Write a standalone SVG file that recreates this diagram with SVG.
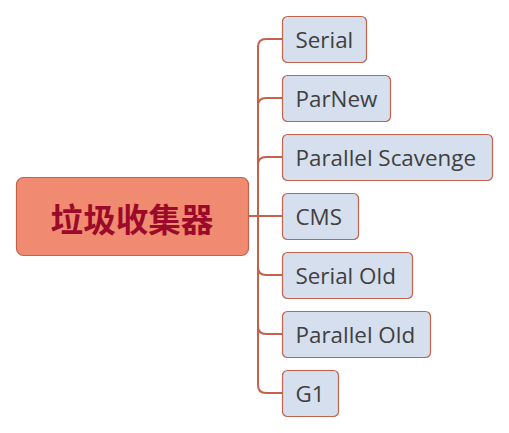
<svg xmlns="http://www.w3.org/2000/svg" width="509" height="433" viewBox="0 0 509 433">
<style>
.c{fill:none;stroke:#c4624c;stroke-width:2}
.n rect{fill:#d5dfee;stroke:#c4624c;stroke-width:1.2}
.n text{font-family:"Open Sans","Noto Sans",sans-serif;font-size:22.4px;fill:#404040}
</style>
<rect width="509" height="433" fill="#fff"/>
<g id="connectors">
<path class="c" d="M249 216H258V47Q258 39 266 39H282"/>
<path class="c" d="M258 216V106Q258 98 266 98H282"/>
<path class="c" d="M258 216V165Q258 157 266 157H282"/>
<path class="c" d="M258 216H282"/>
<path class="c" d="M258 216V267Q258 275 266 275H282"/>
<path class="c" d="M258 216V326Q258 334 266 334H282"/>
<path class="c" d="M258 216V385Q258 393 266 393H282"/>
</g>
<g id="root">
<rect x="16.5" y="177.5" width="232" height="78" rx="7" fill="#f08a70" stroke="#c4624c" stroke-width="1.2"/>
<text x="132" y="217.5" text-anchor="middle" dominant-baseline="central" font-family="'Noto Sans CJK SC',sans-serif" font-weight="bold" font-size="32.6" fill="#9b0a2a">垃圾收集器</text>
</g>
<g id="serial" class="n"><rect x="282.5" y="16.5" width="84" height="46" rx="5"/><text x="295.5" y="48">Serial</text></g>
<g id="parnew" class="n"><rect x="282.5" y="75.5" width="108" height="46" rx="5"/><text x="295.5" y="107">ParNew</text></g>
<g id="parallel-scavenge" class="n"><rect x="282.5" y="134.5" width="210" height="46" rx="5"/><text x="295.5" y="166">Parallel Scavenge</text></g>
<g id="cms" class="n"><rect x="282.5" y="193.5" width="76" height="46" rx="5"/><text x="295.5" y="225">CMS</text></g>
<g id="serial-old" class="n"><rect x="282.5" y="252.5" width="130" height="46" rx="5"/><text x="295.5" y="284">Serial Old</text></g>
<g id="parallel-old" class="n"><rect x="282.5" y="311.5" width="148" height="46" rx="5"/><text x="295.5" y="343">Parallel Old</text></g>
<g id="g1" class="n"><rect x="282.5" y="370.5" width="56" height="46" rx="5"/><text x="295.5" y="402">G1</text></g>
</svg>
